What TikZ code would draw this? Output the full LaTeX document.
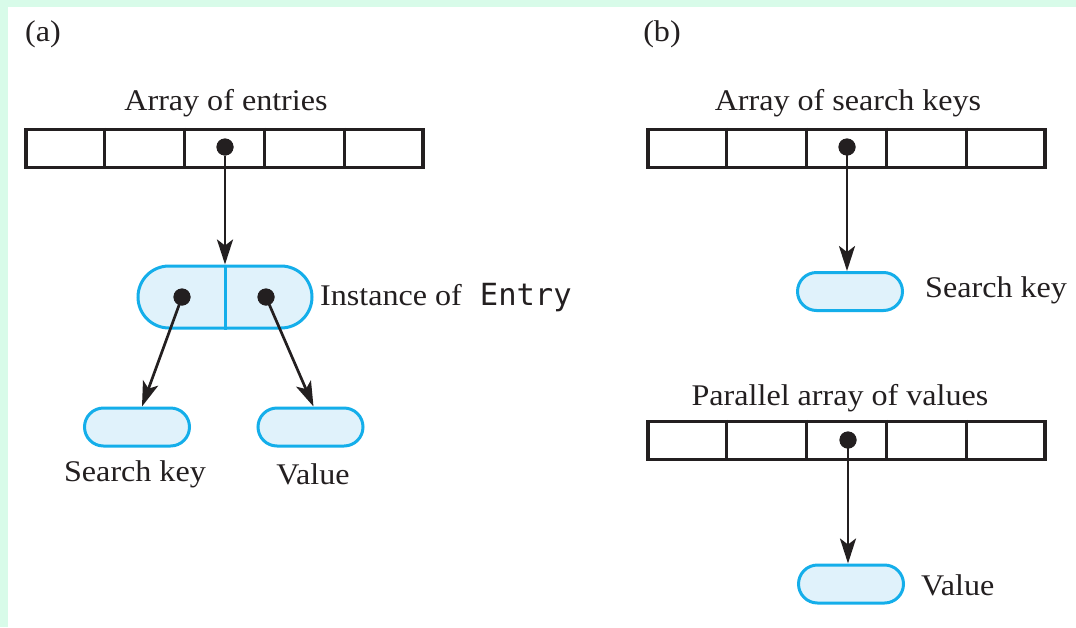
\documentclass[tikz,border=0pt]{standalone}
\usepackage{fontspec}
\setmainfont[FakeStretch=1.07]{Liberation Serif}
\newfontfamily\codefont{DejaVu Sans Mono}
\usetikzlibrary{arrows.meta,calc}
\definecolor{mint}{HTML}{D8FBE9}
\definecolor{pillline}{HTML}{14AEEA}
\definecolor{pillfill}{HTML}{E0F2FB}
\definecolor{ink}{HTML}{231F20}
\tikzset{
  lbl/.style={font=\fontsize{30}{34}\selectfont, text=ink, inner sep=0pt},
  arr/.style={draw=ink, line width=3.3pt, minimum width=397pt, minimum height=38pt, inner sep=0pt},
  cellsep/.style={draw=ink, line width=3.3pt},
  pill/.style={draw=pillline, fill=pillfill, line width=3pt, minimum width=105pt,
    minimum height=38pt, rounded corners=19pt, inner sep=0pt},
  bigpill/.style={pill, minimum width=174pt, minimum height=62pt, rounded corners=31pt},
  ptr/.style={circle, fill=ink, minimum size=17pt, inner sep=0pt},
  link/.style={draw=ink, line width=2.7pt, -{Stealth[length=25pt,width=16pt,inset=6pt]}}
}
\newcommand{\cellrow}[1]{%
  \foreach \k in {1,2,3,4} {
    \draw[cellsep] ($(#1.north west)!\k/5!(#1.north east)$) -- ($(#1.south west)!\k/5!(#1.south east)$);
  }}
\begin{document}
\begin{tikzpicture}[x=1pt,y=-1pt]
  % page and panel background
  \fill[mint] (0,0) rectangle (1076,627);
  \fill[white] (8,7) rectangle (1076,627);
  \useasboundingbox (0,0) rectangle (1076,627);

  % ---------- (a) one array of entries ----------
  \node[lbl] (tagA) at (43,34) {(a)};
  \node[lbl] (titleA) at (226,103) {Array of entries};
  \node[arr] (arrA) at (224.5,148.5) {};
  \cellrow{arrA}
  \node[ptr] (dotA) at (225,147) {};

  \node[bigpill] (entry) at (225,297) {};
  \draw[pillline, line width=3pt] (entry.north) -- (entry.south);
  \node[ptr] (dotL) at (182,297) {};
  \node[ptr] (dotR) at (266,297) {};
  \node[lbl, anchor=west] (instA) at (320,298) {Instance of\hspace{0.6em}{\codefont\fontsize{30.5}{34}\selectfont Entry}};

  \node[pill] (keyA) at (137,427) {};
  \node[pill] (valA) at (310.5,427) {};
  \node[lbl] (keyAlbl) at (135,474) {Search key};
  \node[lbl] (valAlbl) at (313,474) {Value};

  \draw[link] (dotA) -- (entry.north);
  \draw[link] (dotL.center) -- ([xshift=5pt]keyA.north);
  \draw[link] (dotR.center) -- ([xshift=3pt]valA.north);
  \fill[ink] (dotA) circle (8.5pt) (dotL) circle (8.5pt) (dotR) circle (8.5pt);

  % ---------- (b) parallel arrays ----------
  \node[lbl] (tagB) at (662,34) {(b)};
  \node[lbl] (titleB1) at (848,103) {Array of search keys};
  \node[arr] (arrB1) at (846.5,148.5) {};
  \cellrow{arrB1}
  \node[ptr] (dotB1) at (847,147) {};
  \node[pill] (keyB) at (850,291.5) {};
  \node[lbl, anchor=west] (keyBlbl) at (925,290) {Search key};
  \draw[link] (dotB1.center) -- (dotB1 |- keyB.north);

  \node[lbl] (titleB2) at (840,398) {Parallel array of values};
  \node[arr] (arrB2) at (846.5,440.5) {};
  \cellrow{arrB2}
  \node[ptr] (dotB2) at (848,440) {};
  \node[pill] (valB) at (851,584) {};
  \node[lbl, anchor=west] (valBlbl) at (921,585) {Value};
  \draw[link] (dotB2.center) -- (dotB2 |- valB.north);
  \fill[ink] (dotB1) circle (8.5pt) (dotB2) circle (8.5pt);
\end{tikzpicture}
\end{document}
